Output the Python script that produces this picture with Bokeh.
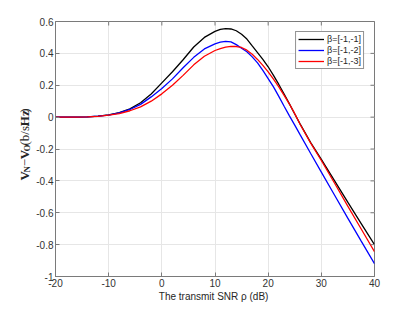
import math
from bokeh.plotting import figure
from bokeh.layouts import row
from bokeh.models import FixedTicker
from bokeh.core.properties import value
from bokeh.embed import file_html
from bokeh.resources import INLINE

# ---------------- data ----------------
rho = [-20, -16, -14, -12, -10, -8, -6, -4, -2, 0, 2, 4, 6, 8, 10, 11, 12, 13, 14,
       15, 16, 17, 18, 19, 20, 21, 22, 23, 24, 25, 26, 28, 30, 32.5, 35, 37.5, 40]

beta_11 = [0.0, 0.0005, 0.002, 0.006, 0.014, 0.028, 0.052, 0.09, 0.145, 0.215, 0.285,
           0.36, 0.44, 0.50, 0.538, 0.55, 0.555, 0.553, 0.542, 0.52, 0.49, 0.447, 0.405,
           0.362, 0.316, 0.262, 0.205, 0.145, 0.083, 0.02, -0.042, -0.16, -0.265, -0.40,
           -0.535, -0.668, -0.80]

beta_12 = [0.0, 0.0005, 0.002, 0.006, 0.013, 0.026, 0.048, 0.08, 0.127, 0.18, 0.24,
           0.31, 0.375, 0.428, 0.46, 0.47, 0.475, 0.472, 0.455, 0.432, 0.41, 0.378, 0.34,
           0.293, 0.242, 0.19, 0.13, 0.068, 0.008, -0.05, -0.11, -0.228, -0.345, -0.49,
           -0.635, -0.778, -0.92]

beta_13 = [0.0, 0.0005, 0.002, 0.005, 0.012, 0.022, 0.04, 0.064, 0.10, 0.146, 0.20,
           0.262, 0.328, 0.382, 0.418, 0.43, 0.439, 0.444, 0.443, 0.437, 0.42, 0.394,
           0.362, 0.325, 0.284, 0.238, 0.19, 0.137, 0.082, 0.022, -0.045, -0.163, -0.272,
           -0.415, -0.56, -0.702, -0.845]

series_names = ["β=[-1,-1]", "β=[-1,-2]", "β=[-1,-3]"]
series_colors = ["#000000", "#0000ff", "#ff0000"]

x_ticks = [-20, -10, 0, 10, 20, 30, 40]
x_tick_labels = ["-20", "-10", "0", "10", "20", "30", "40"]
y_ticks = [-1, -0.8, -0.6, -0.4, -0.2, 0, 0.2, 0.4, 0.6]
y_tick_labels = ["-1", "-0.8", "-0.6", "-0.4", "-0.2", "0", "0.2", "0.4", "0.6"]

x_title = "The transmit SNR  ρ (dB)"

# y title pieces: (text, style, size, x, y) in pixels of the narrow title panel
y_title_pieces = [
    ("V", "bold", "13px", 24, 114.5),
    ("N", "bold", "9px", 26.5, 123.9),
    ("−", "normal", "13px", 24, 131.4),
    ("V", "bold", "13px", 24, 139.7),
    ("O", "bold", "9px", 26.5, 149.1),
    ("(b/s/", "normal", "13px", 24, 156.1),
    ("Hz", "bold", "13px", 24, 179.2),
    (")", "normal", "13px", 24, 195.1),
]

W_LAB = 33
H = 304
AXIS_GRAY = "#7a7a7a"

# ---------------- narrow panel holding the y-axis title ----------------
lab = figure(width=W_LAB, height=H, x_range=(0, W_LAB), y_range=(0, H),
             output_backend="svg", toolbar_location=None,
             x_axis_type=None, y_axis_type=None,
             min_border_left=0, min_border_right=0, min_border_top=0,
             min_border_bottom=0)
lab.outline_line_color = None
lab.xgrid.visible = False
lab.ygrid.visible = False
for txt, style, size, tx, ty in y_title_pieces:
    lab.text(x=[tx], y=[ty], text=[txt], angle=math.pi / 2,
             text_align="left", text_baseline="middle",
             text_font=value("Liberation Serif"), text_font_style=style,
             text_font_size=size, text_color="#262626")

# ---------------- main plot ----------------
p = figure(width=407 - W_LAB, height=H, x_range=(-20, 40), y_range=(-1, 0.6),
           output_backend="svg", toolbar_location=None,
           min_border_left=53 - W_LAB, min_border_right=33, min_border_top=21,
           min_border_bottom=28)

p.background_fill_color = "white"
p.border_fill_color = "white"
p.outline_line_color = AXIS_GRAY
p.outline_line_width = 1

p.xgrid.grid_line_color = "#e6e6e6"
p.ygrid.grid_line_color = "#e6e6e6"

for ys, name, col in zip([beta_11, beta_12, beta_13], series_names, series_colors):
    p.line(rho, ys, line_color=col, line_width=1.3, legend_label=name)

# ticks on the top and right edges of the box (half of each dash is clipped)
p.scatter(x=x_ticks, y=[0.6] * len(x_ticks), marker="dash", size=8, angle=math.pi / 2,
          line_color=AXIS_GRAY, line_width=1)
p.scatter(x=[40] * len(y_ticks), y=y_ticks, marker="dash", size=8,
          line_color=AXIS_GRAY, line_width=1)

p.xaxis.ticker = FixedTicker(ticks=x_ticks)
p.xaxis.major_label_overrides = {t: s for t, s in zip(x_ticks, x_tick_labels)}
p.yaxis.ticker = FixedTicker(ticks=y_ticks)
p.yaxis.major_label_overrides = {t: s for t, s in zip(y_ticks, y_tick_labels)}

for ax in list(p.xaxis) + list(p.yaxis):
    ax.axis_line_color = AXIS_GRAY
    ax.major_tick_line_color = AXIS_GRAY
    ax.major_tick_in = 4
    ax.major_tick_out = 0
    ax.minor_tick_line_color = None
    ax.major_label_text_font = "Liberation Sans"
    ax.major_label_text_font_size = "10px"
    ax.major_label_text_color = "#333333"

p.yaxis.major_label_standoff = 2
p.xaxis.major_label_standoff = 2
p.xaxis.axis_label = x_title
p.xaxis.axis_label_text_font = "Liberation Sans"
p.xaxis.axis_label_text_font_size = "10px"
p.xaxis.axis_label_text_font_style = "normal"
p.xaxis.axis_label_text_color = "#262626"
p.xaxis.axis_label_standoff = 1

leg = p.legend[0]
leg.location = "top_right"
leg.margin = 10
leg.padding = 2
leg.spacing = 1
leg.glyph_width = 26
leg.glyph_height = 10
leg.label_height = 10
leg.label_standoff = 3
leg.label_text_font = "Liberation Sans"
leg.label_text_font_size = "9px"
leg.label_text_color = "#262626"
leg.border_line_color = "#262626"
leg.border_line_width = 1
leg.background_fill_color = "white"
leg.background_fill_alpha = 1

layout = row(lab, p)
open("out.html", "w").write(file_html(layout, INLINE))
